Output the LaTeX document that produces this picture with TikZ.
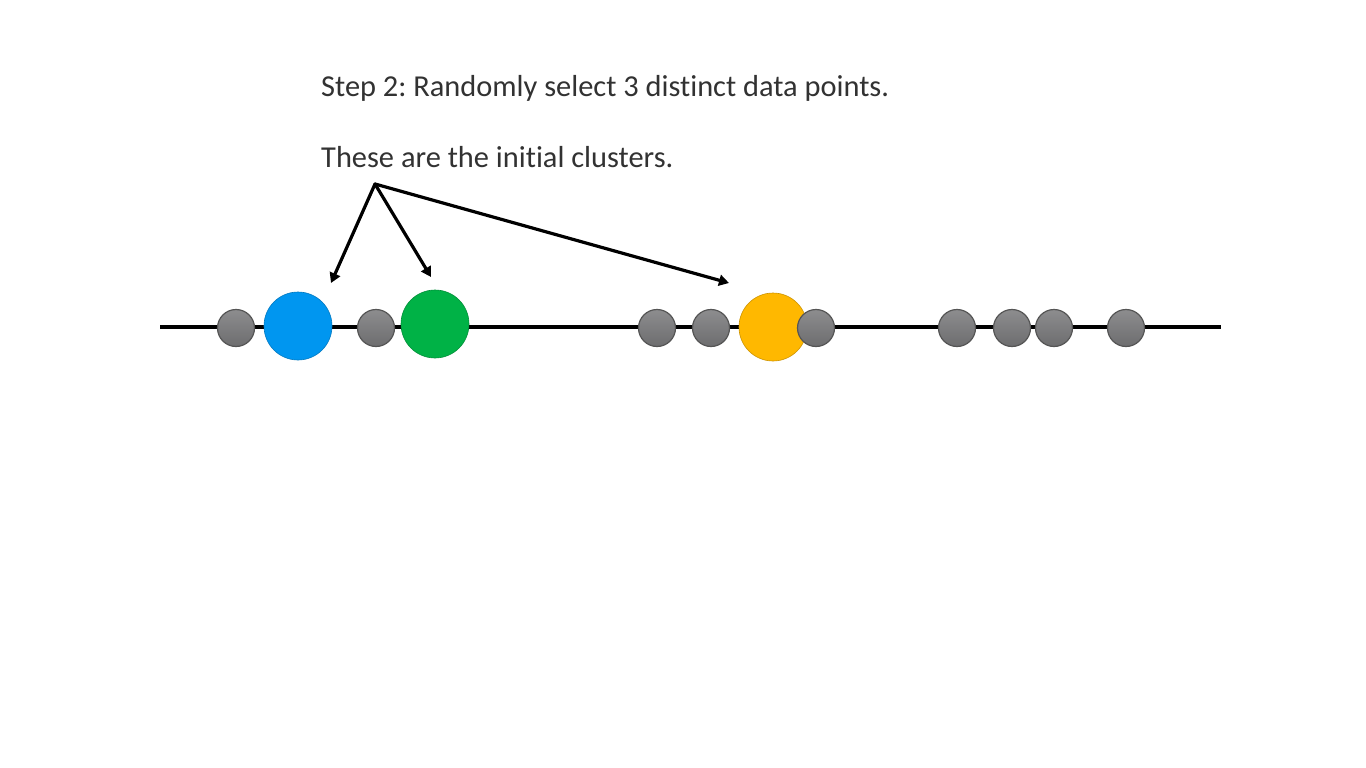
\documentclass[tikz,border=0pt]{standalone}
\usepackage{fontspec}
\setmainfont{Carlito}[Ligatures={NoCommon}]
\usetikzlibrary{arrows.meta}
\definecolor{dotgray}{RGB}{128,128,130}
\definecolor{dotedge}{RGB}{85,85,85}
\definecolor{cblue}{RGB}{0,150,240}
\definecolor{cgreen}{RGB}{0,178,70}
\definecolor{corange}{RGB}{255,184,0}
\definecolor{txt}{RGB}{50,50,50}
\tikzset{
  dot/.style={circle, minimum size=37pt, inner sep=0pt, draw=dotedge, line width=1.2pt, top color=dotgray!90!white, bottom color=dotgray!85!black},
  cluster/.style={circle, minimum size=68pt, inner sep=0pt, fill=#1, draw=#1!80!black, line width=0.6pt},
  pointer/.style={line width=3.2pt, line cap=round, -{Triangle[length=10pt,width=11pt]}, shorten >=0pt},
  label/.style={anchor=base west, inner sep=0pt, font=\fontsize{30.4}{36}\selectfont\frenchspacing, text=txt}
}
\begin{document}
\begin{tikzpicture}[x=1pt,y=-1pt]
\useasboundingbox (0,0) rectangle (1366,768);
\fill[white] (0,0) rectangle (1366,768);
\node[label] (t1) at (321,96) {Step 2: Randomly select 3 distinct data points.};
\node[label] (t2) at (321,167) {These are the initial clusters.};
\coordinate (l) at (160,327);
\coordinate (r) at (1221,327);
\draw[line width=4pt] (l) -- (r);
\node[dot] (g1) at (236,328) {};
\node[cluster=cblue] (c1) at (298,326) {};
\node[dot] (g2) at (376,328) {};
\node[cluster=cgreen] (c2) at (435,324) {};
\node[dot] (g3) at (657,328) {};
\node[dot] (g4) at (711,328) {};
\node[cluster=corange] (c3) at (773,327) {};
\node[dot] (g5) at (816,328) {};
\node[dot] (g6) at (957,328) {};
\node[dot] (g7) at (1012,328) {};
\node[dot] (g8) at (1054,328) {};
\node[dot] (g9) at (1126,328) {};
\coordinate (src) at (375,184);
\coordinate (e1) at (331,283);
\coordinate (e2) at (431,277);
\coordinate (e3) at (729,283);
\draw[pointer] (src) -- (e1);
\draw[pointer] (src) -- (e2);
\draw[pointer] (src) -- (e3);
\end{tikzpicture}
\end{document}
